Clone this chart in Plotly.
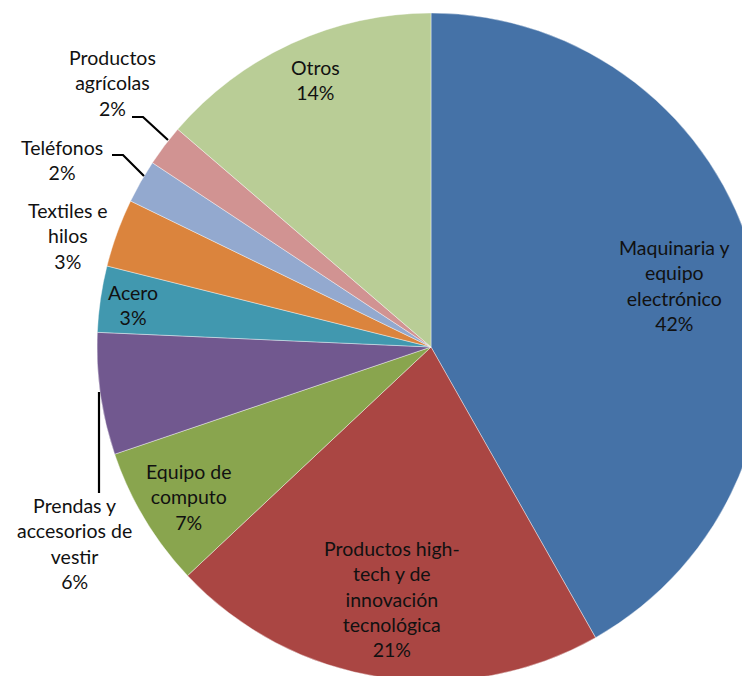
import plotly.graph_objects as go

# ---- data ----
categories = [
    "Maquinaria y equipo electrónico",
    "Productos high-tech y de innovación tecnológica",
    "Equipo de computo",
    "Prendas y accesorios de vestir",
    "Acero",
    "Textiles e hilos",
    "Teléfonos",
    "Productos agrícolas",
    "Otros",
]
values = [41.8, 21.2, 6.8, 5.9, 3.2, 3.3, 2.1, 2.0, 13.7]
label_lines = [
    ["Maquinaria y", "equipo", "electrónico"],
    ["Productos high-", "tech y de", "innovación", "tecnológica"],
    ["Equipo de", "computo"],
    ["Prendas y", "accesorios de", "vestir"],
    ["Acero"],
    ["Textiles e", "hilos"],
    ["Teléfonos"],
    ["Productos", "agrícolas"],
    ["Otros"],
]
colors = ["#4572A7", "#AA4643", "#89A54E", "#71588F", "#4198AF",
          "#DB843D", "#93A9CF", "#D19392", "#B9CD96"]

# The page body has an 8px margin; the reference pie is cropped on the
# right and bottom, so the figure is slightly larger than the window.
W, H = 760, 680
OFF = 8
FONT = "Lato"

# pie centre / radius in window pixels (layout only)
CX, CY, R = 431, 347, 334

# label block centres (window pixels) - layout only
label_pos = [
    (674, 285), (392, 599), (189, 497), (74, 543), (133, 305),
    (68, 236), (62, 160), (112, 83), (315, 80),
]
# leader lines (window pixels) - layout only
leaders = [
    [(99, 392), (99, 493)],
    [(112, 155), (123, 155), (144, 176)],
    [(132, 117), (143, 117), (168, 140)],
]


def px(x, y):
    return (x - OFF) / W, 1 - (y - OFF) / H


total = sum(values)

x0, y1 = px(CX - R, CY - R)
x1, y0 = px(CX + R, CY + R)

fig = go.Figure(
    go.Pie(
        labels=categories,
        values=values,
        sort=False,
        direction="clockwise",
        rotation=0,
        textinfo="none",
        hoverinfo="label+percent",
        marker=dict(colors=colors, line=dict(color="rgba(255,255,255,0.5)", width=0.8)),
        domain=dict(x=[max(0, x0), min(1, x1)], y=[max(0, y0), min(1, y1)]),
        showlegend=False,
    )
)

annotations = []
for lines, v, (x, y) in zip(label_lines, values, label_pos):
    pct = round(v / total * 100)
    text = "<br>".join(lines + [f"{pct}%"])
    ax, ay = px(x, y)
    annotations.append(dict(
        x=ax, y=ay, xref="paper", yref="paper", text=text, showarrow=False,
        xanchor="center", yanchor="middle", align="center",
        font=dict(family=FONT, size=19.5, color="#111111"),
    ))

shapes = []
for pts in leaders:
    path = ""
    for i, (x, y) in enumerate(pts):
        a, b = px(x, y)
        path += ("M" if i == 0 else " L") + f"{a:.5f},{b:.5f}"
    shapes.append(dict(type="path", path=path, xref="paper", yref="paper",
                       line=dict(color="black", width=2.2)))

fig.update_layout(
    width=W, height=H,
    margin=dict(l=0, r=0, t=0, b=0),
    paper_bgcolor="white",
    plot_bgcolor="white",
    annotations=annotations,
    shapes=shapes,
    showlegend=False,
)

fig.write_html("out.html")
